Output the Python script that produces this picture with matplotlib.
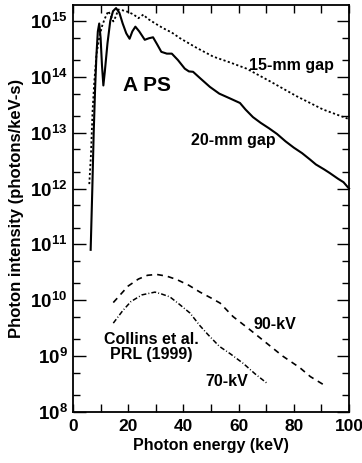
import matplotlib
matplotlib.use("Agg")
import matplotlib.pyplot as plt
from matplotlib.ticker import FixedLocator, NullFormatter

plt.rcParams['font.family'] = ['Liberation Sans', 'DejaVu Sans']
plt.rcParams['font.weight'] = 'bold'
plt.rcParams['mathtext.fontset'] = 'custom'
plt.rcParams['mathtext.rm'] = 'Liberation Sans:bold'
plt.rcParams['mathtext.bf'] = 'Liberation Sans:bold'
plt.rcParams['mathtext.it'] = 'Liberation Sans:bold'

# 20-mm gap (solid)
gap20_e = [6.4, 7.0, 7.5, 8.0, 8.5, 9.0, 9.5, 10.0, 10.5, 11.0, 11.5, 12.5, 13.5, 14.5,
           15.6, 16.8, 18.0, 19.3, 20.5, 21.5, 22.6, 24.0, 26.0, 27.5, 29.0, 30.5, 32.0,
           34.0, 35.8, 38.0, 40.5, 42.0, 43.5, 46.0, 49.6, 53.0, 56.9, 60.5, 62.5, 65.2,
           68.0, 71.0, 73.9, 77.0, 80.0, 83.0, 85.9, 88.0, 91.0, 93.0, 96.0, 98.0, 100.0]
gap20_i = [8e10, 1e12, 1e13, 6e13, 2.5e14, 6.5e14, 9e14, 5e14, 1.6e14, 7e13, 1.2e14, 4e14, 1e15, 1.5e15,
           1.7e15, 1.4e15, 9e14, 6e14, 4.8e14, 6.5e14, 7.9e14, 6.5e14, 4.6e14, 4.9e14, 5.1e14, 3.8e14, 2.8e14,
           2.6e14, 2.6e14, 2.0e14, 1.4e14, 1.25e14, 1.23e14, 9.5e13, 6.6e13, 5.0e13, 4.1e13, 3.4e13, 2.6e13, 1.9e13,
           1.5e13, 1.2e13, 9.5e12, 7.0e12, 5.4e12, 4.3e12, 3.3e12, 2.7e12, 2.2e12, 1.9e12, 1.5e12, 1.3e12, 1.0e12]

# 15-mm gap (dotted)
gap15_e = [5.9, 6.5, 7.1, 7.7, 8.5, 9.5, 10.5, 11.5, 12.8, 13.8, 14.6, 15.5, 16.4, 18.0,
           20.0, 22.0, 23.7, 25.5, 27.0, 30.3, 32.7, 35.8, 38.8, 44.8, 50.8, 57.0, 62.9,
           71.4, 81.0, 90.6, 100.0]
gap15_i = [1.2e12, 4e12, 2.5e13, 8e13, 2.5e14, 5e14, 8e14, 1.1e15, 1.5e15, 1.2e15, 9.8e14, 1.2e15, 1.6e15, 1.55e15,
           1.45e15, 1.3e15, 1.12e15, 1.3e15, 1.1e15, 8.7e14, 7.4e14, 6.2e14, 4.9e14, 3.3e14, 2.3e14, 1.8e14, 1.4e14,
           8.3e13, 4.5e13, 2.6e13, 1.75e13]

# 90-kV tube (dashed)
kv90_e = [14.6, 18.0, 20.0, 23.7, 27.0, 30.3, 34.0, 37.6, 42.0, 46.0, 50.0, 53.3, 58.0,
          64.0, 70.2, 76.0, 82.2, 86.0, 90.7]
kv90_i = [9.1e9, 1.4e10, 1.8e10, 2.4e10, 2.8e10, 2.9e10, 2.7e10, 2.35e10, 1.85e10, 1.4e10, 1.1e10, 8.9e9, 5.1e9,
          3.0e9, 1.7e9, 1.0e9, 6.2e8, 4.3e8, 3.1e8]

# 70-kV tube (dash-dot)
kv70_e = [14.6, 18.0, 21.0, 25.0, 29.7, 32.0, 35.1, 38.5, 42.4, 46.0, 49.0, 53.0, 57.0, 61.7, 66.0, 70.2]
kv70_i = [3.9e9, 6.5e9, 9.5e9, 1.25e10, 1.4e10, 1.3e10, 1.15e10, 8.5e9, 5.9e9, 3.5e9, 2.4e9, 1.5e9, 1.1e9,
          7.4e8, 4.8e8, 3.3e8]

x_ticks = [0, 20, 40, 60, 80, 100]
y_ticks = [1e8, 1e9, 1e10, 1e11, 1e12, 1e13, 1e14, 1e15]
y_ticklabels = [r'$10^{8}$', r'$10^{9}$', r'$10^{10}$', r'$10^{11}$', r'$10^{12}$',
                r'$10^{13}$', r'$10^{14}$', r'$10^{15}$']

fig = plt.figure(figsize=(3.62, 4.63), dpi=100)
ax = fig.add_axes([73/362, 1 - 412/463, (349-73)/362, (412-5)/463])

ax.plot(gap20_e, gap20_i, color='black', lw=1.5, solid_joinstyle='round', clip_on=False)
ax.plot(gap15_e, gap15_i, color='black', lw=1.3, linestyle=(0, (1.2, 1.3)), clip_on=False)
ax.plot(kv90_e, kv90_i, color='black', lw=1.2, linestyle=(0, (3.5, 3.0)))
ax.plot(kv70_e, kv70_i, color='black', lw=1.1, linestyle=(0, (3.2, 1.4, 0.6, 1.4)))

ax.set_yscale('log')
ax.set_xlim(0, 100)
ax.set_ylim(1e8, 1.93e15)

ax.xaxis.set_major_locator(FixedLocator(x_ticks))
ax.xaxis.set_minor_locator(FixedLocator([10, 30, 50, 70, 90]))
ax.set_xticklabels([str(t) for t in x_ticks])
ax.yaxis.set_major_locator(FixedLocator(y_ticks))
minors = []
for d in range(8, 16):
    for m in (2, 5):
        v = m * 10.0 ** d
        if v < 1.93e15:
            minors.append(v)
ax.yaxis.set_minor_locator(FixedLocator(minors))
ax.yaxis.set_minor_formatter(NullFormatter())
ax.set_yticklabels(y_ticklabels)

ax.tick_params(which='both', direction='in', top=True, right=True, width=1.0)
ax.tick_params(which='major', length=9, pad=4)
ax.tick_params(which='minor', length=5)
ax.tick_params(axis='x', which='major', length=6, labelsize=12.5, pad=5)
ax.tick_params(axis='x', which='minor', length=6)
ax.tick_params(axis='y', which='major', labelsize=13.5, pad=4)
for s in ax.spines.values():
    s.set_linewidth(1.3)

ax.set_xlabel('Photon energy (keV)', fontsize=11.5, fontweight='bold', labelpad=3)
ax.set_ylabel('Photon intensity (photons/keV-s)', fontsize=12, fontweight='bold', labelpad=4)

ax.text(26.8, 10**13.84, 'A PS', fontsize=15, fontweight='bold', ha='center', va='center')
ax.text(79.2, 10**14.21, '15-mm gap', fontsize=11.5, fontweight='bold', ha='center', va='center')
ax.text(58.2, 10**12.86, '20-mm gap', fontsize=11.5, fontweight='bold', ha='center', va='center')
ax.text(73.2, 10**9.56, '90-kV', fontsize=11.5, fontweight='bold', ha='center', va='center')
ax.text(55.6, 10**8.55, '70-kV', fontsize=11.5, fontweight='bold', ha='center', va='center')
ax.text(28.4, 10**9.16, 'Collins et al.\nPRL (1999)', fontsize=11.5, fontweight='bold',
        ha='center', va='center', linespacing=1.0)

fig.savefig('out.png', dpi=100)
